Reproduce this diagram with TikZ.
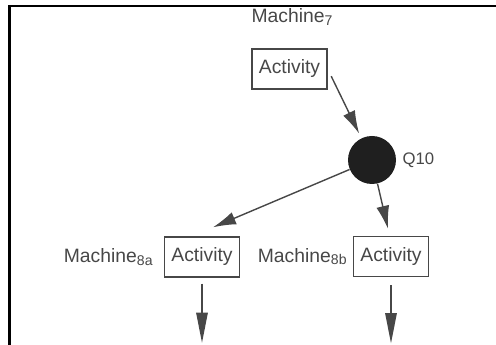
\documentclass[tikz,border=0pt]{standalone}
\usepackage{fontspec}
\setmainfont{Liberation Sans}
\usetikzlibrary{arrows.meta,positioning}
\definecolor{scanink}{gray}{0.28}
\definecolor{queuedark}{gray}{0.12}
\newcommand{\machname}[1]{Machine\raisebox{-0.25ex}{\footnotesize #1}}

\begin{document}
\begin{tikzpicture}[font=\fontsize{11}{13}\selectfont,
  activity/.style={draw=scanink, text=scanink, line width=0.8pt, minimum width=1.5cm, minimum height=0.8cm, inner sep=1pt},
  machlbl/.style={text=scanink},
  flow/.style={draw=scanink, line width=0.8pt, -{Latex[width=2.6mm,length=4.6mm]}},
  outflow/.style={draw=scanink, line width=0.8pt, -{Triangle[width=2.3mm,length=6mm]}}]
% Define the page and the frame
\useasboundingbox (0,0) rectangle (9.92,6.9);
\draw[line width=1.7pt] (0.19,0) -- (0.19,6.78) -- (9.92,6.78);

% Define the machines
\node[activity] (act7) at (5.79,5.52) {Activity};
\node[machlbl] (m7) at (5.84,6.56) {\machname{7}};

\node[activity] (act8a) at (4.04,1.76) {Activity};
\node[machlbl, left=0.1cm of act8a] (m8a) {\machname{8a}};

\node[activity] (act8b) at (7.82,1.77) {Activity};
\node[machlbl, left=0cm of act8b] (m8b) {\machname{8b}};

% Define the queue
\node[circle, fill=queuedark, minimum size=0.96cm, inner sep=0pt] (q10) at (7.44,3.70) {};
\node[machlbl, right=0pt of q10, font=\fontsize{9.5}{11}\selectfont] (q10lbl) {Q10};

\coordinate[below=1.3cm of act8a.south] (outa);
\coordinate[below=1.32cm of act8b.south] (outb);

% Draw the flow
\draw[flow, shorten <=1.6mm, shorten >=1mm] (act7.east) -- (q10);
\draw[flow] (q10) -- ([xshift=0.22cm,yshift=0.18cm]act8a.north);
\draw[flow] (q10) -- ([xshift=-0.06cm,yshift=0.14cm]act8b.north);
\draw[outflow, shorten <=1.2mm] (act8a.south) -- (outa);
\draw[outflow, shorten <=1.6mm] (act8b.south) -- (outb);
\end{tikzpicture}
\end{document}
